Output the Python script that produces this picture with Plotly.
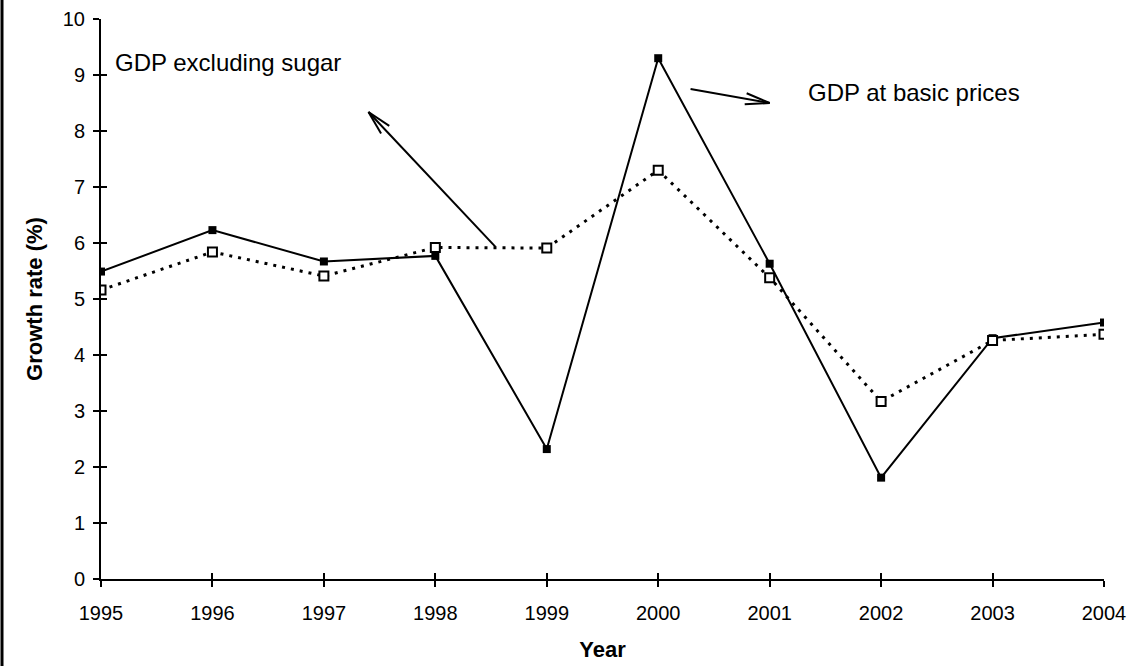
import math
import plotly.graph_objects as go

# Annual growth rates, 1995-2004
years = [1995, 1996, 1997, 1998, 1999, 2000, 2001, 2002, 2003, 2004]
gdp_basic_prices = [5.49, 6.23, 5.67, 5.77, 2.32, 9.30, 5.63, 1.81, 4.30, 4.58]
gdp_excl_sugar = [5.16, 5.84, 5.41, 5.92, 5.91, 7.30, 5.38, 3.17, 4.26, 4.37]
y_ticks = [0, 1, 2, 3, 4, 5, 6, 7, 8, 9, 10]

W, H = 1134, 666
M_L, M_R, M_T, M_B = 101, 30, 19, 87
X_RANGE = [1995, 2004]
Y_RANGE = [0, 10]
plot_w = W - M_L - M_R
plot_h = H - M_T - M_B
sx = plot_w / (X_RANGE[1] - X_RANGE[0])   # pixels per year
sy = plot_h / (Y_RANGE[1] - Y_RANGE[0])   # pixels per percentage point

FONT = "Liberation Sans, Arial, sans-serif"

fig = go.Figure()

fig.add_trace(go.Scatter(
    x=years, y=gdp_basic_prices, name="GDP at basic prices",
    mode="lines+markers",
    line=dict(color="black", width=2),
    marker=dict(symbol="square", size=8, color="black"),
))
fig.add_trace(go.Scatter(
    x=years, y=gdp_excl_sugar, name="GDP excluding sugar",
    mode="lines+markers",
    line=dict(color="black", width=3, dash="3px,6px"),
    marker=dict(symbol="square", size=9, color="white",
                line=dict(color="black", width=2)),
))
# companion axes carrying the inward half of the cross ticks
fig.add_trace(go.Scatter(x=[], y=[], xaxis="x2", yaxis="y2",
                         showlegend=False, hoverinfo="skip"))


def arrow(tail, tip, head_len=25, half_angle=13):
    """Open V arrow drawn as line shapes, given data-space tail and tip."""
    fig.add_shape(type="line", x0=tail[0], y0=tail[1], x1=tip[0], y1=tip[1],
                  line=dict(color="black", width=2))
    # direction from tip back to tail, in pixel space (y grows upward here)
    dx = (tail[0] - tip[0]) * sx
    dy = (tail[1] - tip[1]) * sy
    ang = math.atan2(dy, dx)
    for s in (-1, 1):
        a = ang + s * math.radians(half_angle)
        ex = tip[0] + head_len * math.cos(a) / sx
        ey = tip[1] + head_len * math.sin(a) / sy
        fig.add_shape(type="line", x0=tip[0], y0=tip[1], x1=ex, y1=ey,
                      line=dict(color="black", width=2))


arrow((1998.54, 5.93), (1997.40, 8.34))
arrow((2000.29, 8.75), (2001.00, 8.50))

fig.add_annotation(x=1995.11, y=9.23, text="GDP excluding sugar",
                   showarrow=False, xanchor="left", yanchor="middle",
                   font=dict(family=FONT, size=24, color="black"))
fig.add_annotation(x=2001.33, y=8.68, text="GDP at basic prices",
                   showarrow=False, xanchor="left", yanchor="middle",
                   font=dict(family=FONT, size=24, color="black"))

# frame line along the left edge
fig.add_shape(type="line", xref="paper", yref="paper",
              x0=(2 - M_L) / plot_w, x1=(2 - M_L) / plot_w,
              y0=-M_B / plot_h, y1=1 + M_T / plot_h,
              line=dict(color="black", width=3))

axis_common = dict(showgrid=False, zeroline=False, color="black",
                   automargin=False,
                   tickfont=dict(family=FONT, size=20, color="black"))

fig.update_layout(
    width=W, height=H,
    margin=dict(l=M_L, r=M_R, t=M_T, b=M_B, pad=0, autoexpand=False),
    paper_bgcolor="white", plot_bgcolor="white",
    showlegend=False,
    xaxis=dict(range=X_RANGE, tickmode="array", tickvals=years,
               ticktext=[str(y) for y in years],
               showline=True, linecolor="black", linewidth=2,
               ticks="outside", ticklen=6, tickwidth=2, tickcolor="black",
               ticklabelstandoff=9,
               title=dict(text="<b>Year</b>", standoff=19,
                          font=dict(family=FONT, size=22, color="black")),
               **axis_common),
    yaxis=dict(range=Y_RANGE, tickmode="array", tickvals=y_ticks,
               showline=True, linecolor="black", linewidth=2,
               ticks="outside", ticklen=6, tickwidth=2, tickcolor="black",
               ticklabelstandoff=4,
               title=dict(text="<b>Growth rate (%)</b>", standoff=14,
                          font=dict(family=FONT, size=22, color="black")),
               **axis_common),
    xaxis2=dict(range=X_RANGE, overlaying="x", side="bottom",
                tickmode="array", tickvals=years, showticklabels=False,
                ticks="inside", ticklen=6, tickwidth=2, tickcolor="black",
                showline=False, showgrid=False, zeroline=False),
    yaxis2=dict(range=Y_RANGE, overlaying="y", side="left",
                tickmode="array", tickvals=y_ticks, showticklabels=False,
                ticks="inside", ticklen=6, tickwidth=2, tickcolor="black",
                showline=False, showgrid=False, zeroline=False),
)

fig.write_html("out.html")
